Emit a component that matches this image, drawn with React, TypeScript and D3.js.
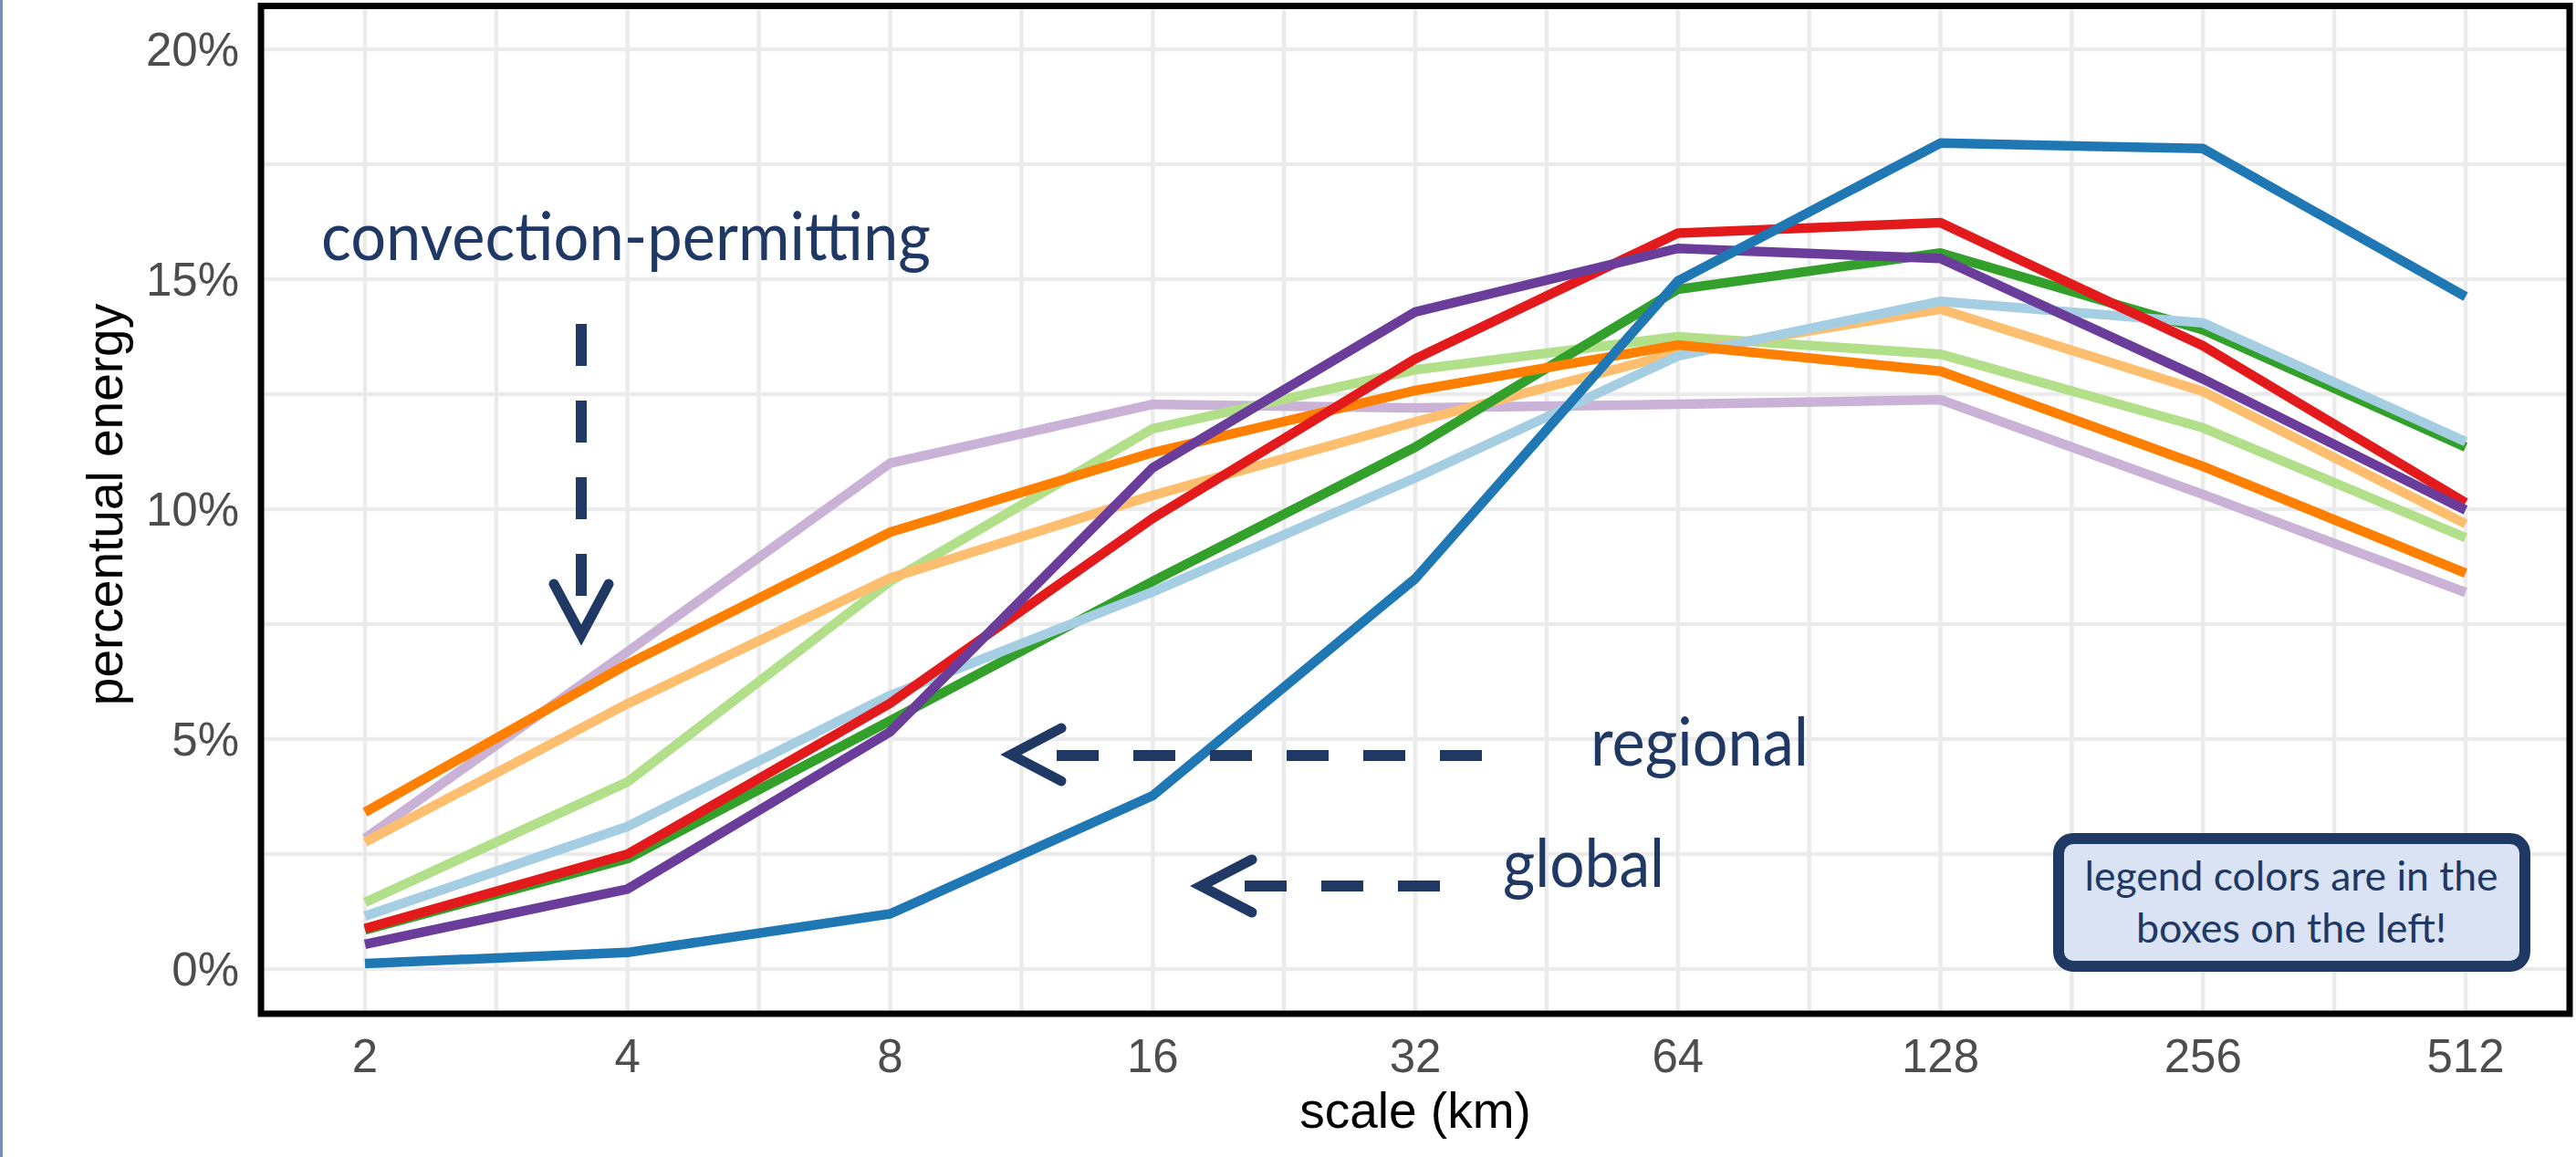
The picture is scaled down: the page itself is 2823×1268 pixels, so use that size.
import React, { useEffect, useRef } from "react";
import * as d3 from "d3";

// scale (km) on a log2 axis
const scales = [2, 4, 8, 16, 32, 64, 128, 256, 512];
const yTicks = [0, 5, 10, 15, 20];

const seriesNames = [
  "lightPurple",
  "lightGreen",
  "lightOrange",
  "green",
  "lightBlue",
  "orange",
  "red",
  "purple",
  "blue",
];
const seriesColors = [
  "#cab2d6",
  "#b2df8a",
  "#fdbf6f",
  "#33a02c",
  "#a6cee3",
  "#ff7f00",
  "#e31a1c",
  "#6a3d9a",
  "#1f78b4",
];

// percentual energy (%)
const lightPurple = [2.84, 6.9, 11.0, 12.28, 12.2, 12.28, 12.38, 10.32, 8.19];
const lightGreen = [1.45, 4.07, 8.43, 11.75, 13.03, 13.75, 13.37, 11.77, 9.38];
const lightOrange = [2.76, 5.77, 8.5, 10.3, 11.9, 13.4, 14.35, 12.56, 9.68];
const green = [0.85, 2.4, 5.4, 8.43, 11.35, 14.78, 15.57, 13.9, 11.35];
const lightBlue = [1.15, 3.1, 5.95, 8.2, 10.68, 13.33, 14.52, 14.05, 11.47];
const orange = [3.41, 6.63, 9.5, 11.23, 12.58, 13.57, 13.0, 10.93, 8.61];
const red = [0.88, 2.5, 5.78, 9.8, 13.27, 16.0, 16.23, 13.55, 10.14];
const purple = [0.54, 1.74, 5.16, 10.9, 14.29, 15.67, 15.45, 12.83, 9.98];
const blue = [0.12, 0.36, 1.2, 3.77, 8.49, 14.96, 17.96, 17.84, 14.62];

const seriesValues = [lightPurple, lightGreen, lightOrange, green, lightBlue, orange, red, purple, blue];

const noteLines = ["legend colors are in the", "boxes on the left!"];

const App = () => {
  const ref = useRef<SVGSVGElement>(null);

  useEffect(() => {
    const width = 2823,
      height = 1268;
    const panel = { left: 286, right: 2816, top: 6.5, bottom: 1111 };
    const navy = "#203864";
    const annFont = "Lato, 'Open Sans', sans-serif";
    const axFont = "'Liberation Sans', Arial, sans-serif";

    const x = d3.scaleLog().base(2).domain([2, 512]).range([400, 2702]);
    const y = d3.scaleLinear().domain([0, 20]).range([1062, 54]);

    const svg = d3.select(ref.current);
    svg.selectAll("*").remove();

    svg.append("rect").attr("width", width).attr("height", height).attr("fill", "#fff");
    svg.append("rect").attr("x", 0).attr("y", 0).attr("width", 3).attr("height", height).attr("fill", "#7b8db5");

    // grid
    const grid = svg.append("g").attr("stroke", "#ebebeb").attr("stroke-width", 4.5);
    const xMinor = d3.pairs(scales).map(([a, b]) => Math.sqrt(a * b));
    const yMinor = d3.pairs(yTicks).map(([a, b]) => (a + b) / 2);
    grid
      .selectAll("line.vx")
      .data(scales.concat(xMinor))
      .enter()
      .append("line")
      .attr("x1", d => x(d))
      .attr("x2", d => x(d))
      .attr("y1", panel.top)
      .attr("y2", panel.bottom);
    grid
      .selectAll("line.hy")
      .data(yTicks.concat(yMinor))
      .enter()
      .append("line")
      .attr("x1", panel.left)
      .attr("x2", panel.right)
      .attr("y1", d => y(d))
      .attr("y2", d => y(d));

    // series
    const line = d3
      .line<number>()
      .x((d, i) => x(scales[i]))
      .y(d => y(d));
    svg
      .append("g")
      .selectAll("path")
      .data(seriesValues)
      .enter()
      .append("path")
      .attr("class", (d, i) => seriesNames[i])
      .attr("d", d => line(d))
      .attr("fill", "none")
      .attr("stroke", (d, i) => seriesColors[i])
      .attr("stroke-width", 10.5)
      .attr("stroke-linejoin", "round");

    // panel border
    svg
      .append("rect")
      .attr("x", panel.left)
      .attr("y", panel.top)
      .attr("width", panel.right - panel.left)
      .attr("height", panel.bottom - panel.top)
      .attr("fill", "none")
      .attr("stroke", "#000")
      .attr("stroke-width", 7);

    // axis labels
    svg
      .append("g")
      .selectAll("text")
      .data(yTicks)
      .enter()
      .append("text")
      .attr("x", 262)
      .attr("y", d => y(d))
      .attr("dy", "0.36em")
      .attr("text-anchor", "end")
      .attr("font-family", axFont)
      .attr("font-size", 51)
      .attr("fill", "#4d4d4d")
      .text(d => d + "%");
    svg
      .append("g")
      .selectAll("text")
      .data(scales)
      .enter()
      .append("text")
      .attr("x", d => x(d))
      .attr("y", 1175)
      .attr("text-anchor", "middle")
      .attr("font-family", axFont)
      .attr("font-size", 51)
      .attr("fill", "#4d4d4d")
      .text(d => d);
    svg
      .append("text")
      .attr("x", (panel.left + panel.right) / 2)
      .attr("y", 1236)
      .attr("text-anchor", "middle")
      .attr("font-family", axFont)
      .attr("font-size", 55)
      .attr("fill", "#000")
      .text("scale (km)");
    svg
      .append("text")
      .attr("transform", "translate(134,553) rotate(-90)")
      .attr("text-anchor", "middle")
      .attr("font-family", axFont)
      .attr("font-size", 55)
      .attr("fill", "#000")
      .text("percentual energy");

    // annotations
    const ann = svg.append("g");
    const addText = (t, tx, ty, len, size) =>
      ann
        .append("text")
        .attr("x", tx)
        .attr("y", ty)
        .attr("font-family", annFont)
        .attr("font-size", size)
        .attr("fill", navy)
        .attr("textLength", len)
        .attr("lengthAdjust", "spacingAndGlyphs")
        .text(t);
    addText("convection-permitting", 352, 285, 668, 74);
    addText("regional", 1743, 839, 239, 74);
    addText("global", 1647, 972, 177, 74);

    const dash = (x1, y1, x2, y2) =>
      ann
        .append("line")
        .attr("x1", x1)
        .attr("y1", y1)
        .attr("x2", x2)
        .attr("y2", y2)
        .attr("stroke", navy)
        .attr("stroke-width", 12)
        .attr("stroke-dasharray", "46 38");
    const chevron = pts =>
      ann
        .append("path")
        .attr("d", d3.line()(pts))
        .attr("fill", "none")
        .attr("stroke", navy)
        .attr("stroke-width", 11)
        .attr("stroke-linecap", "round")
        .attr("stroke-linejoin", "miter");

    dash(637, 355, 637, 653);
    chevron([[607, 640], [637, 696], [667, 640]]);
    dash(1624, 828, 1158, 828);
    chevron([[1163, 798], [1108, 827], [1163, 856]]);
    dash(1578, 971, 1364, 971);
    chevron([[1372, 942], [1316, 971], [1372, 1000]]);

    // note box
    ann
      .append("rect")
      .attr("x", 2256)
      .attr("y", 919)
      .attr("width", 511)
      .attr("height", 140)
      .attr("rx", 16)
      .attr("fill", "#dae3f3")
      .attr("stroke", navy)
      .attr("stroke-width", 12);
    ann
      .selectAll("text.note")
      .data(noteLines)
      .enter()
      .append("text")
      .attr("class", "note")
      .attr("x", 2511)
      .attr("y", (d, i) => 976 + i * 57)
      .attr("text-anchor", "middle")
      .attr("font-family", annFont)
      .attr("font-size", 45)
      .attr("fill", navy)
      .attr("textLength", (d, i) => (i === 0 ? 453 : 340))
      .attr("lengthAdjust", "spacingAndGlyphs")
      .text(d => d);
  }, []);

  return (
    <svg
      ref={ref}
      width={2823}
      height={1268}
      style={{ position: "absolute", left: 0, top: 0, display: "block" }}
    />
  );
};

export default App;
